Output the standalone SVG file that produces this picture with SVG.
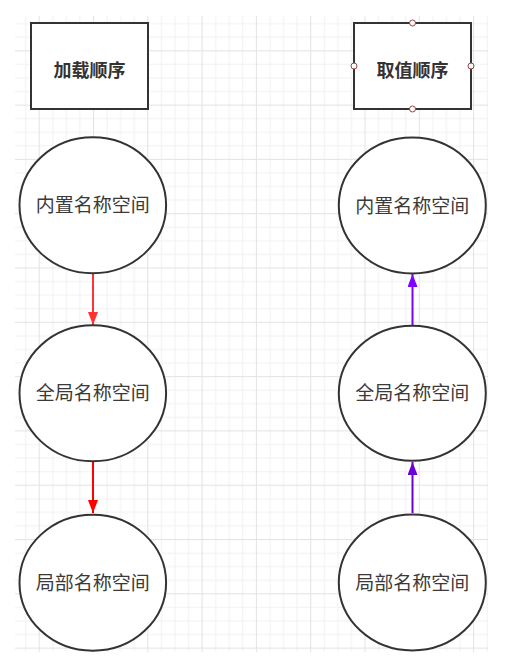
<svg xmlns="http://www.w3.org/2000/svg" width="509" height="667" viewBox="0 0 509 667">
<style>
.node{fill:#ffffff;stroke:#333333;stroke-width:2}
.lbl{font-family:"Noto Sans CJK SC","Noto Sans",sans-serif;font-size:19px;fill:#3a3a3a;text-anchor:middle}
.hdr{font-family:"Noto Sans CJK SC","Noto Sans",sans-serif;font-size:18px;font-weight:bold;fill:#333333;text-anchor:middle}
.pt{fill:#ffffff;stroke:#a04040;stroke-width:1}
</style>
<defs>
<pattern id="grid" patternUnits="userSpaceOnUse" x="38.7" y="50.3" width="54.3" height="54.3">
<rect x="0" y="0" width="54.3" height="54.3" fill="#ffffff"/>
<g fill="#f2f2f2">
<rect x="13.6" y="0" width="1" height="54.3"/>
<rect x="27.15" y="0" width="1" height="54.3"/>
<rect x="40.7" y="0" width="1" height="54.3"/>
<rect x="0" y="13.6" width="54.3" height="1"/>
<rect x="0" y="27.15" width="54.3" height="1"/>
<rect x="0" y="40.7" width="54.3" height="1"/>
</g>
<g fill="#e3e3e3">
<rect x="0" y="0" width="1" height="54.3"/>
<rect x="0" y="0" width="54.3" height="1"/>
</g>
</pattern>
<marker id="arR1" markerUnits="userSpaceOnUse" markerWidth="14" markerHeight="12" refX="13" refY="5" orient="auto">
<path d="M0,0 L13,5 L0,10 Z" fill="#ff3333"/>
</marker>
<marker id="arR2" markerUnits="userSpaceOnUse" markerWidth="14" markerHeight="12" refX="13" refY="5" orient="auto">
<path d="M0,0 L13,5 L0,10 Z" fill="#ff0000"/>
</marker>
<marker id="arP1" markerUnits="userSpaceOnUse" markerWidth="14" markerHeight="12" refX="13" refY="5" orient="auto">
<path d="M0,0 L13,5 L0,10 Z" fill="#7f00ff"/>
</marker>
<marker id="arP2" markerUnits="userSpaceOnUse" markerWidth="14" markerHeight="12" refX="13" refY="5" orient="auto">
<path d="M0,0 L13,5 L0,10 Z" fill="#6a00d8"/>
</marker>
</defs>
<rect x="0" y="0" width="509" height="667" fill="#ffffff"/>
<rect x="15" y="16" width="473" height="636" fill="url(#grid)"/>

<g id="connectors" fill="none" stroke-width="2">
<line x1="93" y1="273" x2="93" y2="325" stroke="#ff3333" marker-end="url(#arR1)"/>
<line x1="93" y1="461" x2="93" y2="513" stroke="#ff0000" marker-end="url(#arR2)"/>
<line x1="412.5" y1="325" x2="412.5" y2="274" stroke="#7f00ff" marker-end="url(#arP1)"/>
<line x1="412.5" y1="513" x2="412.5" y2="462" stroke="#6a00d8" marker-end="url(#arP2)"/>
</g>

<g id="load-order">
<rect class="node" x="31" y="23" width="117" height="86"/>
<text class="hdr" x="89.5" y="76.5">加载顺序</text>
</g>
<g id="lookup-order">
<rect class="node" x="354" y="23" width="117" height="86"/>
<text class="hdr" x="412.5" y="76.5">取值顺序</text>
<circle class="pt" cx="412.5" cy="23" r="3"/>
<circle class="pt" cx="412.5" cy="109" r="3"/>
<circle class="pt" cx="354" cy="66" r="3"/>
<circle class="pt" cx="471" cy="66" r="3"/>
</g>

<g id="left-builtin">
<ellipse class="node" cx="92.8" cy="205.3" rx="73.3" ry="68"/>
<text class="lbl" x="92.8" y="212.3">内置名称空间</text>
</g>
<g id="left-global">
<ellipse class="node" cx="92.8" cy="393.3" rx="73.3" ry="68"/>
<text class="lbl" x="92.8" y="400.3">全局名称空间</text>
</g>
<g id="left-local">
<ellipse class="node" cx="92.8" cy="582.7" rx="73.3" ry="68"/>
<text class="lbl" x="92.8" y="589.7">局部名称空间</text>
</g>

<g id="right-builtin">
<ellipse class="node" cx="412.3" cy="205.5" rx="73.5" ry="68"/>
<text class="lbl" x="412.3" y="212.5">内置名称空间</text>
</g>
<g id="right-global">
<ellipse class="node" cx="412.3" cy="393.3" rx="73.5" ry="67.5"/>
<text class="lbl" x="412.3" y="400.3">全局名称空间</text>
</g>
<g id="right-local">
<ellipse class="node" cx="412.3" cy="582.5" rx="73.5" ry="68"/>
<text class="lbl" x="412.3" y="589.5">局部名称空间</text>
</g>
</svg>
